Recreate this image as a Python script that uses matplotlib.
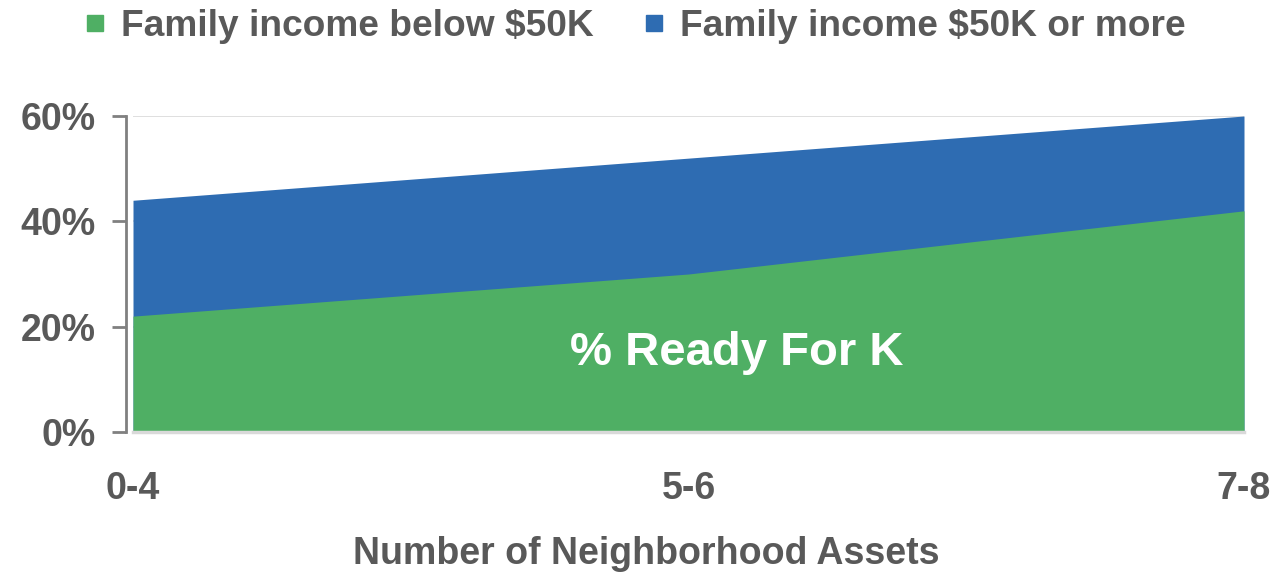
import matplotlib
matplotlib.use("Agg")
import matplotlib.pyplot as plt
from matplotlib.lines import Line2D

# data
categories = ["0-4", "5-6", "7-8"]
low_income = [22, 30, 42]    # family income below $50K
high_income = [44, 52, 60]   # family income $50K or more
yticks = [0, 20, 40, 60]

green = "#4FAF64"
blue = "#2E6CB2"
grey = "#595959"

plt.rcParams["font.family"] = ["Liberation Sans", "DejaVu Sans"]
plt.rcParams["font.weight"] = "bold"

fig = plt.figure(figsize=(12.74, 5.72), dpi=100)
ax = fig.add_axes([133 / 1274, 1 - 432 / 572, (1244 - 133) / 1274, (432 - 116) / 572])

x = list(range(len(categories)))
ax.fill_between(x, 0, high_income, color=blue, linewidth=0, zorder=2)
ax.fill_between(x, 0, low_income, color=green, linewidth=0, zorder=3)

ax.set_xlim(0, len(categories) - 1)
ax.set_ylim(0, 60)
ax.set_yticks(yticks)
ax.set_yticklabels([f"{v}%" for v in yticks])
ax.set_xticks(x)
ax.set_xticklabels(categories)

# gridline at top only shows (others hidden behind areas)
ax.grid(axis="y", color="#d9d9d9", linewidth=1.2, zorder=1)
ax.set_axisbelow(True)

for s in ["top", "right"]:
    ax.spines[s].set_visible(False)
ax.spines["left"].set_position(("outward", 5))
ax.spines["left"].set_color("#808080")
ax.spines["left"].set_linewidth(2)
ax.spines["bottom"].set_color("#d9d9d9")
ax.spines["bottom"].set_linewidth(2.5)
ax.spines["bottom"].set_zorder(4)

ax.tick_params(axis="y", direction="out", length=10, width=2, color="#808080",
               labelsize=27, labelcolor=grey, pad=12)
ax.tick_params(axis="x", length=0, labelsize=27, labelcolor=grey, pad=28)

ax.set_xlabel("Number of Neighborhood Assets", fontsize=27, color=grey,
              fontweight="bold", labelpad=22)
ax.xaxis.set_label_coords(0.462, -0.33)

ax.text(1.087, 15, "% Ready For K", color="white", fontsize=34, fontweight="bold",
        ha="center", va="center", zorder=5)

handles = [
    Line2D([], [], marker="s", linestyle="none", markersize=11, color=green),
    Line2D([], [], marker="s", linestyle="none", markersize=11, color=blue),
]
leg = fig.legend(handles, ["Family income below $50K", "Family income $50K or more"],
                 loc="upper center", bbox_to_anchor=(0.499, 1.042), ncol=2,
                 frameon=False, fontsize=26.7, handlelength=0.5,
                 handletextpad=0.45, columnspacing=1.4)
for t in leg.get_texts():
    t.set_color(grey)

fig.savefig("out.png", dpi=100)
